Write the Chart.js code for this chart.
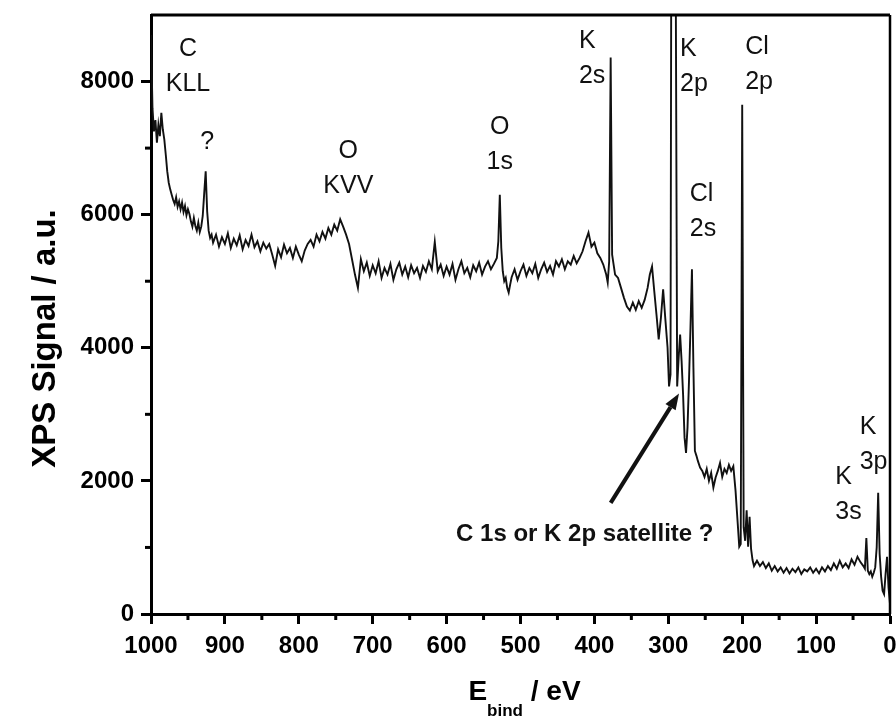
<!DOCTYPE html>
<html>
<head>
<meta charset="utf-8">
<script src="https://cdn.jsdelivr.net/npm/chart.js@4.4.1/dist/chart.umd.min.js"></script>
<style>
  body { margin: 0; background: #fff; }
  canvas { display: block; }
</style>
</head>
<body>
<canvas id="xpsChart" width="896" height="722"></canvas>
<script>
// binding energy (eV) and signal
const bindingEnergy = [
  1000, 998, 996, 994, 992, 990, 988, 986, 984, 982,
  980, 978, 976, 974, 972, 970, 968, 966, 964, 962,
  960, 958, 956, 954, 952, 950, 948, 946, 944, 942,
  940, 938, 936, 934, 932, 930, 928, 926, 924, 922,
  920, 918,
  916, 912, 908, 904, 900, 896, 892, 888, 884, 880,
  876, 872, 868, 864, 860, 856, 852, 848, 844, 840,
  836, 832, 828, 824, 820, 816, 812, 808, 804, 800,
  796, 792, 788, 784, 780, 776, 772, 768, 764, 760,
  756, 752, 748, 744, 740, 736, 732, 728, 724, 720,
  716, 712, 708, 704, 700, 696, 692, 688, 684, 680,
  676, 672, 668, 664, 660, 656, 652, 648, 644, 640,
  636, 632, 628, 624, 620, 616, 612, 608, 604, 600,
  596, 592, 588, 584, 580, 576, 572, 568, 564, 560,
  556, 552, 548, 544, 540, 536, 532,
  530, 528, 526, 524, 522, 520, 518, 516, 514, 512,
  508, 504, 500, 496, 492, 488, 484, 480, 476, 472,
  468, 464, 460, 456, 452, 448, 444, 440, 436, 432,
  428, 424, 420, 416, 412, 408, 404, 400, 396, 392,
  388, 384,
  382, 380, 378, 376, 374, 372,
  368, 364, 360, 356, 352, 348, 344, 340, 336, 332,
  328, 325, 322, 319, 316, 313, 310, 307, 304, 301,
  299, 297, 296, 294, 292, 290, 288, 286, 284, 282,
  280, 278, 276, 274, 272, 270, 268, 266, 264, 262,
  260, 257, 254, 251, 248, 245, 242, 239, 236, 233,
  230, 227, 224, 221, 218, 215, 212, 209, 206, 204,
  202, 200, 198, 196, 194, 192, 190, 188, 186, 184,
  180, 176, 172, 168, 164, 160, 156, 152, 148, 144,
  140, 136, 132, 128, 124, 120, 116, 112, 108, 104,
  100, 96, 92, 88, 84, 80, 76, 72, 68, 64,
  60, 56, 52, 48, 44, 40, 36,
  34, 32, 30, 28, 26, 24, 22, 20, 18, 16,
  14, 12, 10, 8, 6, 4, 2, 0
];

const xpsSignal = [
  8700, 7600, 7250, 7420, 7080, 7350, 7180, 7530, 7280, 7130,
  6900, 6650, 6480, 6380, 6300, 6220, 6160, 6260, 6120, 6200,
  6080, 6180, 6040, 6130, 5990, 6080, 6010, 5900, 5820, 5950,
  5830, 5760, 5880, 5740, 5820, 5980, 6320, 6650, 6050, 5760,
  5650, 5700,
  5580, 5700, 5520, 5660, 5560, 5720, 5500, 5640, 5540, 5690,
  5480, 5620, 5530, 5700, 5510, 5600, 5450, 5580, 5490, 5560,
  5400, 5230, 5480, 5360, 5550, 5420, 5500, 5350, 5520, 5400,
  5300, 5460, 5560, 5620, 5520, 5700, 5600, 5740, 5640, 5800,
  5700, 5850, 5760, 5930, 5820, 5700, 5560, 5330, 5100, 4900,
  5330, 5150, 5280, 5080, 5240, 5120, 5300, 5050, 5200, 5100,
  5260, 5020, 5180, 5280, 5100, 5220, 5060, 5240, 5120, 5200,
  5050, 5230, 5140, 5300, 5180, 5590, 5150, 5250, 5080, 5220,
  5100, 5260, 5020, 5180, 5300, 5120, 5200, 5060, 5240, 5150,
  5280, 5100, 5220, 5300, 5180, 5260, 5350,
  5600, 6300, 5500, 5150, 5000, 5050, 4900, 4830, 4950, 5060,
  5180, 5020, 5150, 5250, 5080, 5200, 5120, 5260, 5050, 5180,
  5280, 5140, 5230, 5100, 5300, 5220, 5330, 5180, 5300, 5250,
  5380, 5270, 5350, 5450, 5600, 5730, 5520, 5580, 5420, 5350,
  5250, 5100,
  4980, 5300, 8360, 5400, 5250, 5100,
  5050, 4900, 4750, 4620, 4560, 4680, 4570, 4700, 4600, 4720,
  4900, 5100, 5220, 4850, 4500, 4125, 4450, 4880, 4430, 4000,
  3420, 3600, 9800, 9800, 9800, 9800, 3420, 3850, 4200, 3800,
  3300, 2650, 2420, 2800, 3500, 4300, 5180, 3700, 2450, 2380,
  2300, 2200, 2150, 2060, 2180, 2000, 2120, 1900, 2050, 2150,
  2270, 2060, 2180, 2120, 2240, 2150, 2220, 1850, 1350, 1010,
  1050, 7650, 1300, 1100, 1560, 1010, 1460, 980, 810, 720,
  800, 720, 780, 690, 760, 650, 720, 640, 700, 620,
  690, 610, 680, 630, 700, 600, 670, 640, 700, 620,
  680, 610, 700, 640, 720, 660, 760, 680, 800, 700,
  760, 690, 820, 740, 860, 780, 720,
  680, 1140, 650, 600, 640, 560, 620, 700, 1000, 1820,
  900, 560, 350, 300, 600, 860, 400, 150
];

const xTicks = [0, 100, 200, 300, 400, 500, 600, 700, 800, 900, 1000];
const yTicks = [0, 2000, 4000, 6000, 8000];

// peak labels: lines, binding energy, signal at first line, alignment
const peakLabels = [
  { lines: ['C', 'KLL'], e: 950, v: 8494, align: 'center' },
  { lines: ['?'], e: 924, v: 7093, align: 'center' },
  { lines: ['O', 'KVV'], e: 733, v: 6958, align: 'center' },
  { lines: ['O', '1s'], e: 528, v: 7319, align: 'center' },
  { lines: ['K', '2s'], e: 421, v: 8614, align: 'left' },
  { lines: ['K', '2p'], e: 284, v: 8494, align: 'left' },
  { lines: ['Cl', '2p'], e: 196, v: 8524, align: 'left' },
  { lines: ['Cl', '2s'], e: 271, v: 6310, align: 'left' },
  { lines: ['K', '3s'], e: 74, v: 2063, align: 'left' },
  { lines: ['K', '3p'], e: 41, v: 2801, align: 'left' }
];

const satelliteNote = { text: 'C 1s or K 2p satellite ?', e: 413, v: 1190 };
const satelliteArrow = { from: [378, 1670], to: [285.5, 3313] };

const FONT = '"Liberation Sans", Arial, sans-serif';

const whiteBg = {
  id: 'whiteBg',
  beforeDraw(chart) {
    const c = chart.ctx;
    c.save();
    c.fillStyle = '#fff';
    c.fillRect(0, 0, chart.width, chart.height);
    c.restore();
  }
};

const frameAndMinor = {
  id: 'frameAndMinor',
  afterDraw(chart) {
    const c = chart.ctx;
    const a = chart.chartArea;
    const xs = chart.scales.x, ys = chart.scales.y;
    c.save();
    c.strokeStyle = '#000';
    c.lineWidth = 3;
    c.beginPath();
    c.moveTo(a.left, a.top);
    c.lineTo(a.right, a.top);
    c.stroke();
    c.lineWidth = 2.5;
    c.beginPath();
    c.moveTo(a.right, a.top);
    c.lineTo(a.right, a.bottom);
    c.stroke();
    // minor ticks
    c.lineWidth = 3;
    xs.ticks.forEach(t => {
      if (t.value % 100 !== 0) {
        const px = xs.getPixelForValue(t.value);
        c.beginPath();
        c.moveTo(px, a.bottom);
        c.lineTo(px, a.bottom + 6);
        c.stroke();
      }
    });
    ys.ticks.forEach(t => {
      if (t.value % 2000 !== 0 && t.value < 9000) {
        const py = ys.getPixelForValue(t.value);
        c.beginPath();
        c.moveTo(a.left - 6, py);
        c.lineTo(a.left, py);
        c.stroke();
      }
    });
    c.restore();
  }
};

const notes = {
  id: 'notes',
  afterDatasetsDraw(chart) {
    const c = chart.ctx;
    const xs = chart.scales.x, ys = chart.scales.y;
    c.save();
    c.fillStyle = '#111';
    c.textBaseline = 'middle';
    c.font = '25px ' + FONT;
    peakLabels.forEach(p => {
      c.textAlign = p.align;
      const px = xs.getPixelForValue(p.e);
      const py = ys.getPixelForValue(p.v);
      p.lines.forEach((ln, i) => c.fillText(ln, px, py + i * 35));
    });

    c.font = 'bold 24px ' + FONT;
    c.textAlign = 'center';
    c.fillText(satelliteNote.text, xs.getPixelForValue(satelliteNote.e), ys.getPixelForValue(satelliteNote.v));

    // arrow
    const x1 = xs.getPixelForValue(satelliteArrow.from[0]);
    const y1 = ys.getPixelForValue(satelliteArrow.from[1]);
    const x2 = xs.getPixelForValue(satelliteArrow.to[0]);
    const y2 = ys.getPixelForValue(satelliteArrow.to[1]);
    const ang = Math.atan2(y2 - y1, x2 - x1);
    const headLen = 16, headW = 6;
    const bx = x2 - headLen * Math.cos(ang), by = y2 - headLen * Math.sin(ang);
    c.strokeStyle = '#111';
    c.lineWidth = 4;
    c.beginPath();
    c.moveTo(x1, y1);
    c.lineTo(bx, by);
    c.stroke();
    c.beginPath();
    c.moveTo(x2, y2);
    c.lineTo(bx + headW * Math.sin(ang), by - headW * Math.cos(ang));
    c.lineTo(bx - headW * Math.sin(ang), by + headW * Math.cos(ang));
    c.closePath();
    c.fill();

    // x axis title with subscript
    const a = chart.chartArea;
    const big = 'bold 28px ' + FONT, small = 'bold 17px ' + FONT;
    c.fillStyle = '#000';
    c.font = big;
    const wE = c.measureText('E').width;
    const wRest = c.measureText(' / eV').width;
    c.font = small;
    const wSub = c.measureText('bind').width;
    let x0 = (a.left + a.right) / 2 + 4 - (wE + wSub + wRest) / 2;
    c.textAlign = 'left';
    c.textBaseline = 'alphabetic';
    c.font = big;
    c.fillText('E', x0, 700);
    c.font = small;
    c.fillText('bind', x0 + wE, 716);
    c.font = big;
    c.fillText(' / eV', x0 + wE + wSub, 700);

    // y axis title
    c.save();
    c.translate(46, (a.top + a.bottom) / 2 + 24);
    c.rotate(-Math.PI / 2);
    c.textAlign = 'center';
    c.textBaseline = 'middle';
    c.font = 'bold 33px ' + FONT;
    c.fillText('XPS Signal / a.u.', 0, 0);
    c.restore();
    c.restore();
  }
};

const ctx = document.getElementById('xpsChart').getContext('2d');
new Chart(ctx, {
  type: 'line',
  data: {
    datasets: [{
      data: bindingEnergy.map((e, i) => ({ x: e, y: xpsSignal[i] })),
      borderColor: '#111',
      borderWidth: 1.9,
      pointRadius: 0,
      tension: 0,
      fill: false
    }]
  },
  options: {
    responsive: false,
    animation: false,
    layout: { padding: { top: 15, right: 6, left: 0, bottom: 0 } },
    plugins: { legend: { display: false }, tooltip: { enabled: false } },
    scales: {
      x: {
        type: 'linear',
        reverse: true,
        min: 0,
        max: 1000,
        afterFit: s => { s.height = 108; s.paddingLeft = 0; s.paddingRight = 0; },
        ticks: {
          stepSize: 50,
          autoSkip: false,
          maxRotation: 0,
          padding: 8,
          color: '#000',
          font: { family: FONT, size: 24, weight: 'bold' },
          callback: v => xTicks.includes(v) ? String(v) : ''
        },
        grid: {
          drawOnChartArea: false,
          tickLength: 10,
          tickWidth: 3,
          tickColor: c => xTicks.includes(c.tick.value) ? '#000' : 'rgba(0,0,0,0)'
        },
        border: { display: true, color: '#000', width: 3 }
      },
      y: {
        min: 0,
        max: 9000,
        afterFit: s => { s.width = 151; s.paddingTop = 0; s.paddingBottom = 0; },
        ticks: {
          stepSize: 1000,
          autoSkip: false,
          padding: 7,
          color: '#000',
          font: { family: FONT, size: 24, weight: 'bold' },
          callback: v => yTicks.includes(v) ? String(v) : ''
        },
        grid: {
          drawOnChartArea: false,
          tickLength: 10,
          tickWidth: 3,
          tickColor: c => yTicks.includes(c.tick.value) ? '#000' : 'rgba(0,0,0,0)'
        },
        border: { display: true, color: '#000', width: 3 }
      }
    }
  },
  plugins: [whiteBg, frameAndMinor, notes]
});
</script>
</body>
</html>
